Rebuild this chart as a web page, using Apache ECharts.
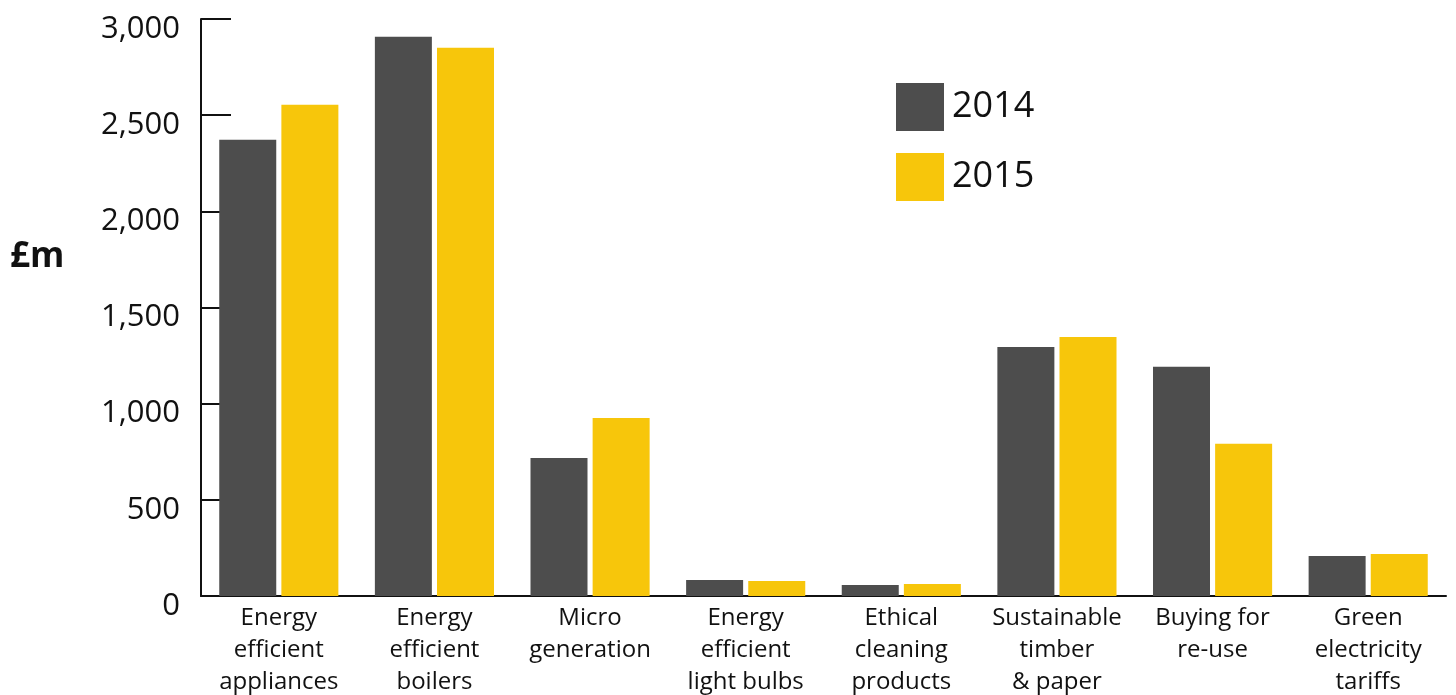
<!DOCTYPE html>
<html>
<head>
<meta charset="utf-8">
<script src="https://cdn.jsdelivr.net/npm/echarts@6/dist/echarts.min.js"></script>
<style>
html,body{margin:0;padding:0;background:#fff;}
#chart{width:1456px;height:695px;}
</style>
</head>
<body>
<div id="chart"></div>
<script>
const categories = [
  'Energy\nefficient\nappliances',
  'Energy\nefficient\nboilers',
  'Micro\ngeneration',
  'Energy\nefficient\nlight bulbs',
  'Ethical\ncleaning\nproducts',
  'Sustainable\ntimber\n& paper',
  'Buying for\nre-use',
  'Green\nelectricity\ntariffs'
];
const seriesNames = ['2014', '2015'];
const values2014 = [2372, 2908, 718, 83, 57, 1295, 1192, 208];
const values2015 = [2554, 2851, 926, 78, 62, 1347, 791, 218];
const yTicks = [0, 500, 1000, 1500, 2000, 2500, 3000];

const FONT = '"Open Sans", "Noto Sans", sans-serif';
const chart = echarts.init(document.getElementById('chart'), null, {renderer: 'canvas'});
chart.setOption({
  animation: false,
  backgroundColor: '#ffffff',
  grid: {left: 201, right: 10, top: 19, bottom: 99, containLabel: false, outerBoundsMode: 'none'},
  legend: {
    orient: 'vertical',
    left: 896,
    top: 83,
    padding: 0,
    itemWidth: 48,
    itemHeight: 48,
    itemGap: 22,
    icon: 'rect',
    data: seriesNames,
    textStyle: {fontFamily: FONT, fontSize: 36, color: '#111', padding: [6, 0, 0, 3]}
  },
  graphic: [{
    type: 'text',
    left: 10,
    top: 240,
    style: {text: '£m', font: 'bold 35px ' + FONT, fill: '#111'}
  }],
  xAxis: {
    type: 'category',
    data: categories,
    axisLine: {lineStyle: {color: '#111', width: 2}},
    axisTick: {inside: true, length: 14, lineStyle: {color: '#111', width: 2}},
    axisLabel: {fontFamily: FONT, fontSize: 24, lineHeight: 32, color: '#111', margin: 6, interval: 0}
  },
  yAxis: {
    type: 'value',
    min: 0,
    max: 3000,
    interval: 500,
    splitLine: {show: false},
    axisLine: {show: true, lineStyle: {color: '#111', width: 2}},
    axisTick: {show: true, inside: true, length: 30, lineStyle: {color: '#111', width: 2}},
    axisLabel: {
      fontFamily: FONT, fontSize: 31, color: '#111', margin: 21,
      verticalAlign: 'top', lineHeight: 20,
      formatter: function (v) { return yTicks.indexOf(v) >= 0 ? v.toLocaleString('en-GB') : ''; }
    }
  },
  series: [
    {name: seriesNames[0], type: 'bar', data: values2014, barWidth: 57, barGap: '9%', itemStyle: {color: '#4d4d4d'}},
    {name: seriesNames[1], type: 'bar', data: values2015, barWidth: 57, barGap: '9%', itemStyle: {color: '#f7c60b'}}
  ]
});
</script>
</body>
</html>
